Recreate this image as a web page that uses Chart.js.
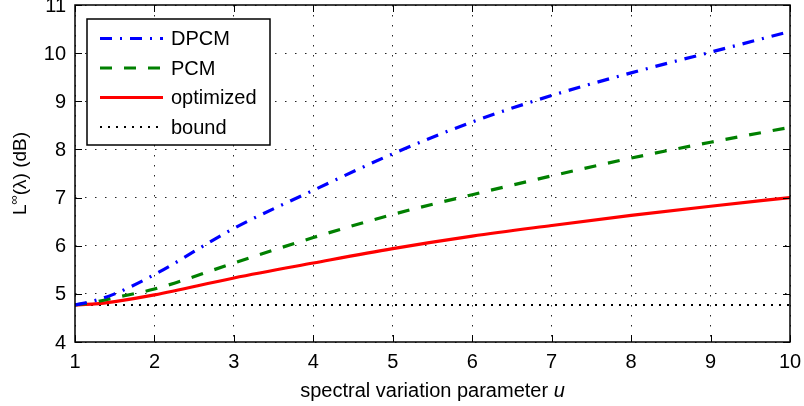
<!DOCTYPE html>
<html>
<head>
<meta charset="utf-8">
<script src="https://cdn.jsdelivr.net/npm/chart.js@4/dist/chart.umd.min.js"></script>
<style>
  html, body { margin: 0; padding: 0; background: #fff; }
  #wrap { width: 804px; height: 406px; }
</style>
</head>
<body>
<div id="wrap"><canvas id="chart" width="804" height="406"></canvas></div>
<script>
// values
const uValues = [1, 1.25, 1.5, 2, 3, 4, 5, 6, 7, 8, 9, 10];
const dpcm = [4.77, 4.86, 5.00, 5.40, 6.36, 7.15, 7.91, 8.57, 9.12, 9.59, 10.02, 10.45];
const pcm = [4.77, 4.83, 4.92, 5.10, 5.64, 6.17, 6.65, 7.06, 7.45, 7.82, 8.15, 8.46];
const optimized = [4.77, 4.79, 4.84, 4.98, 5.33, 5.64, 5.94, 6.20, 6.42, 6.63, 6.82, 7.00];
const boundU = [1, 10];
const bound = [4.77, 4.77];

const xTicks = [1, 2, 3, 4, 5, 6, 7, 8, 9, 10];
const yTicks = [4, 5, 6, 7, 8, 9, 10, 11];

const FONT = '"Liberation Sans", Arial, Helvetica, sans-serif';

function pts(xs, ys) {
  return xs.map((x, i) => ({ x: x, y: ys[i] }));
}

// box, inward ticks, tick labels, legend and axis titles, MATLAB style
const framePlugin = {
  id: 'frame',
  afterDraw(chart) {
    const ctx = chart.ctx;
    const a = chart.chartArea;
    const xs = chart.scales.x, ys = chart.scales.y;
    const tl = 7;

    ctx.save();
    ctx.strokeStyle = '#000';
    ctx.lineWidth = 1;
    ctx.setLineDash([]);
    ctx.beginPath();
    xTicks.forEach(v => {
      const px = Math.round(xs.getPixelForValue(v)) + 0.5;
      ctx.moveTo(px, a.bottom); ctx.lineTo(px, a.bottom - tl);
      ctx.moveTo(px, a.top); ctx.lineTo(px, a.top + tl);
    });
    yTicks.forEach(v => {
      const py = Math.round(ys.getPixelForValue(v)) + 0.5;
      ctx.moveTo(a.left, py); ctx.lineTo(a.left + tl, py);
      ctx.moveTo(a.right, py); ctx.lineTo(a.right - tl, py);
    });
    ctx.stroke();
    ctx.lineWidth = 1.5;
    ctx.strokeRect(a.left, a.top, a.right - a.left, a.bottom - a.top);

    // tick labels
    ctx.fillStyle = '#000';
    ctx.font = '20px ' + FONT;
    ctx.textBaseline = 'middle';
    ctx.textAlign = 'center';
    xTicks.forEach(v => ctx.fillText(String(v), xs.getPixelForValue(v), a.bottom + 20));
    ctx.textAlign = 'right';
    yTicks.forEach(v => ctx.fillText(String(v), a.left - 9, ys.getPixelForValue(v) + 1));

    // legend
    const lx = 87, ly = 19, lw = 183, lh = 126;
    ctx.fillStyle = '#fff';
    ctx.fillRect(lx, ly, lw, lh);
    ctx.lineWidth = 1.5;
    ctx.strokeRect(lx, ly, lw, lh);
    ctx.font = '20px ' + FONT;
    ctx.textBaseline = 'middle';
    ctx.textAlign = 'left';
    chart.data.datasets.forEach((ds, i) => {
      const y = ly + 19.5 + i * 29.5;
      ctx.strokeStyle = ds.borderColor;
      ctx.lineWidth = ds.borderWidth;
      ctx.setLineDash(ds.borderDash || []);
      ctx.beginPath();
      ctx.moveTo(100, y);
      ctx.lineTo(163, y);
      ctx.stroke();
      ctx.setLineDash([]);
      ctx.fillStyle = '#000';
      ctx.fillText(ds.label, 171, y + 1);
    });

    // x title with italic u
    ctx.fillStyle = '#000';
    ctx.textBaseline = 'alphabetic';
    const t1 = 'spectral variation parameter ';
    ctx.font = '20px ' + FONT;
    const w1 = ctx.measureText(t1).width;
    ctx.font = 'italic 20px ' + FONT;
    const w2 = ctx.measureText('u').width;
    let x0 = (a.left + a.right) / 2 - (w1 + w2) / 2;
    ctx.font = '20px ' + FONT;
    ctx.fillText(t1, x0, 397);
    ctx.font = 'italic 20px ' + FONT;
    ctx.fillText('u', x0 + w1, 397);

    // y title L^inf(lambda) (dB)
    ctx.translate(26, (a.top + a.bottom) / 2);
    ctx.rotate(-Math.PI / 2);
    ctx.font = '19px ' + FONT;
    const pL = ctx.measureText('L').width;
    const rest = '(λ) (dB)';
    const pR = ctx.measureText(rest).width;
    ctx.font = '13px ' + FONT;
    const pS = ctx.measureText('∞').width;
    let sx = -(pL + pS + pR) / 2;
    ctx.font = '19px ' + FONT;
    ctx.fillText('L', sx, 0);
    ctx.font = '13px ' + FONT;
    ctx.fillText('∞', sx + pL, -8);
    ctx.font = '19px ' + FONT;
    ctx.fillText(rest, sx + pL + pS, 0);
    ctx.restore();
  }
};

new Chart(document.getElementById('chart'), {
  type: 'line',
  data: {
    datasets: [
      {
        label: 'DPCM',
        data: pts(uValues, dpcm),
        borderColor: '#0000ff',
        borderWidth: 3.2,
        borderDash: [12, 8, 2, 8]
      },
      {
        label: 'PCM',
        data: pts(uValues, pcm),
        borderColor: '#008000',
        borderWidth: 3.2,
        borderDash: [12, 12]
      },
      {
        label: 'optimized',
        data: pts(uValues, optimized),
        borderColor: '#ff0000',
        borderWidth: 3.2
      },
      {
        label: 'bound',
        data: pts(boundU, bound),
        borderColor: '#000000',
        borderWidth: 2,
        borderDash: [2, 6]
      }
    ]
  },
  options: {
    responsive: false,
    animation: false,
    devicePixelRatio: 1,
    layout: { padding: { left: 0, right: 14, top: 5, bottom: 0 } },
    elements: {
      point: { radius: 0 },
      line: { tension: 0.4, cubicInterpolationMode: 'monotone', fill: false, borderCapStyle: 'butt' }
    },
    plugins: {
      legend: { display: false },
      tooltip: { enabled: false }
    },
    scales: {
      x: {
        type: 'linear',
        min: 1,
        max: 10,
        afterFit: s => { s.height = 64; },
        afterBuildTicks: s => { s.ticks = xTicks.map(v => ({ value: v })); },
        ticks: { display: false },
        grid: { color: 'rgba(0,0,0,0.85)', lineWidth: 1, drawTicks: false },
        border: { display: false, dash: [1.5, 8.5] }
      },
      y: {
        min: 4,
        max: 11,
        afterFit: s => { s.width = 75; },
        afterBuildTicks: s => { s.ticks = yTicks.map(v => ({ value: v })); },
        ticks: { display: false },
        grid: { color: 'rgba(0,0,0,0.85)', lineWidth: 1, drawTicks: false },
        border: { display: false, dash: [1.5, 8.5] }
      }
    }
  },
  plugins: [framePlugin]
});
</script>
</body>
</html>
